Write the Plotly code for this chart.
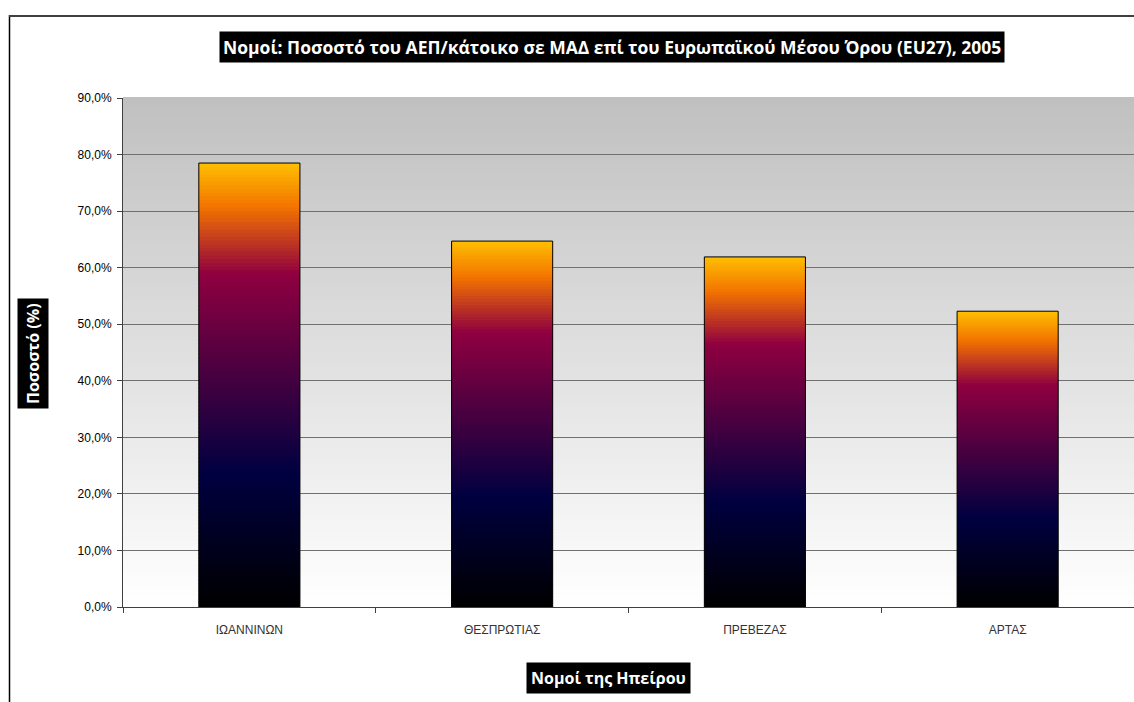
import plotly.graph_objects as go
from plotly.colors import sample_colorscale

# ---- data ----
categories = ["ΙΩΑΝΝΙΝΩΝ", "ΘΕΣΠΡΩΤΙΑΣ", "ΠΡΕΒΕΖΑΣ", "ΑΡΤΑΣ"]
values = [78.5, 64.7, 61.9, 52.3]
y_ticks = [0, 10, 20, 30, 40, 50, 60, 70, 80, 90]
y_tick_labels = ["0,0%", "10,0%", "20,0%", "30,0%", "40,0%", "50,0%",
                 "60,0%", "70,0%", "80,0%", "90,0%"]

title_text = "Νομοί: Ποσοστό του ΑΕΠ/κάτοικο σε ΜΑΔ επί του Ευρωπαϊκού Μέσου Όρου (EU27), 2005"
x_title = "Νομοί της Ηπείρου"
y_title = "Ποσοστό (%)"

# ---- layout geometry (pixels) ----
W, H = 1134, 702
L, R, T, B = 123, 0, 98, 95
PW, PH = W - L - R, H - T - B

def px(x):
    return (x - L) / PW

def py(y):
    return (H - B - y) / PH

# "late sunset" style gradient
bar_scale = [[0.0, "#000000"], [0.3, "#000040"], [0.5, "#400040"],
             [0.75, "#8f0040"], [0.9, "#f27300"], [1.0, "#ffbf00"]]

N = 120
seg_x, seg_base, seg_y, seg_col = [], [], [], []
fracs = [(i + 0.5) / N for i in range(N)]
cols = sample_colorscale(bar_scale, fracs)
for c, v in zip(categories, values):
    for i in range(N):
        seg_x.append(c)
        seg_base.append(v * i / N)
        h = v / N
        if i < N - 1:
            h *= 1.6
        seg_y.append(h)
        seg_col.append(cols[i])

fig = go.Figure()
fig.add_trace(go.Bar(x=seg_x, y=seg_y, base=seg_base,
                     marker=dict(color=seg_col, line=dict(width=0)),
                     hoverinfo="skip", showlegend=False))
fig.add_trace(go.Bar(x=categories, y=values,
                     marker=dict(color="rgba(0,0,0,0)", line=dict(color="#000000", width=1)),
                     showlegend=False))

# background gradient of plot area
shapes = []
NB = 100
bg_cols = sample_colorscale([[0, "#ffffff"], [1, "#c0c0c0"]], [(i + 0.5) / NB for i in range(NB)])
for i in range(NB):
    shapes.append(dict(type="rect", xref="x domain", yref="y domain",
                       x0=0, x1=1, y0=i / NB, y1=(i + 1) / NB + 0.002,
                       fillcolor=bg_cols[i], line=dict(width=0), layer="below"))
# outer chart border (left and top)
shapes.append(dict(type="line", xref="paper", yref="paper",
                   x0=px(9.5), x1=px(9.5), y0=py(15), y1=py(720),
                   line=dict(color="#000000", width=1.5)))
shapes.append(dict(type="line", xref="paper", yref="paper",
                   x0=px(9), x1=px(1140), y0=py(16), y1=py(16),
                   line=dict(color="#404040", width=2)))

annotations = [
    dict(text="<b>" + title_text + "</b>", xref="paper", yref="paper",
         x=px(612), y=py(47), showarrow=False, xanchor="center", yanchor="middle",
         font=dict(family="Open Sans", size=17.5, color="#ffffff"),
         bgcolor="#000000", borderpad=3),
    dict(text="<b>" + x_title + "</b>", xref="paper", yref="paper",
         x=px(608), y=py(678), showarrow=False, xanchor="center", yanchor="middle",
         font=dict(family="Open Sans", size=16, color="#ffffff"),
         bgcolor="#000000", borderpad=4),
    dict(text="<b>" + y_title + "</b>", xref="paper", yref="paper",
         x=px(33), y=py(354), showarrow=False, xanchor="center", yanchor="middle",
         textangle=-90,
         font=dict(family="Open Sans", size=16, color="#ffffff"),
         bgcolor="#000000", borderpad=4),
]

fig.update_layout(
    width=W, height=H,
    margin=dict(l=L, r=R, t=T, b=B),
    paper_bgcolor="#ffffff", plot_bgcolor="#ffffff",
    barmode="overlay", bargap=0.6,
    shapes=shapes, annotations=annotations,
    showlegend=False,
)
fig.update_xaxes(type="category", tickson="boundaries", ticks="outside", ticklen=5,
                 tickcolor="#404040", showline=True, linecolor="#404040", linewidth=1,
                 showgrid=False, ticklabelstandoff=12,
                 tickfont=dict(family="Liberation Sans", size=12, color="#333333"))
fig.update_yaxes(range=[0, 90], tickvals=y_ticks, ticktext=y_tick_labels,
                 ticks="outside", ticklen=5, tickcolor="#404040",
                 showline=True, linecolor="#404040", linewidth=1,
                 showgrid=True, gridcolor="#707070", gridwidth=1,
                 zeroline=False, ticklabelstandoff=3,
                 tickfont=dict(family="Liberation Sans", size=12, color="#000000"))

fig.write_html("out.html", config={"displayModeBar": False},
               post_script="document.body.style.margin='0';document.body.style.overflow='hidden';")
